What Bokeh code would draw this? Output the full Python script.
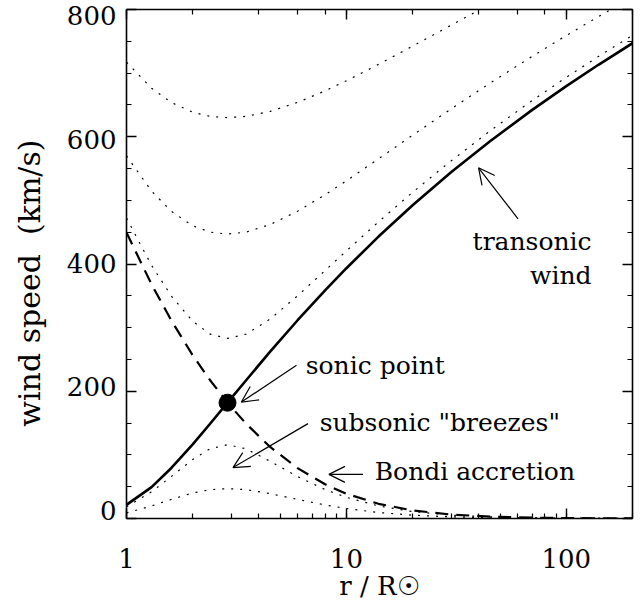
import math
from bokeh.plotting import figure
from bokeh.models import (LinearAxis, LogAxis, Label, Arrow, OpenHead,
                          SingleIntervalTicker, LogTicker, FixedTicker,
                          PrintfTickFormatter, CustomJSTickFormatter, Range1d)
from bokeh.embed import file_html
from bokeh.resources import INLINE

# ---------------- data ----------------
# heliocentric distance r / R_sun
r = [1, 1.3, 1.6, 2, 2.4, 2.88, 3.5, 4.5, 6, 8, 10, 14, 20, 30, 45, 70, 100, 140, 200]
# wind speed (km/s)
transonic_wind = [21.5, 49.4, 79.4, 116.6, 148.9, 182.0, 217.3, 262.2, 311.6, 358.6,
                  393.4, 443.1, 492.3, 544.5, 592.9, 642.2, 679.5, 713.1, 747.0]
bondi_accretion = [449.4, 368.0, 311.1, 256.6, 217.3, 182.0, 148.9, 112.4, 79.1, 53.8,
                   38.9, 23.1, 12.7, 6.2, 2.9, 1.3, 0.6, 0.3, 0.2]
supersonic_high = [717.2, 676.2, 653.8, 638.6, 632.0, 630.0, 632.0, 639.8, 654.0, 672.1,
                   688.0, 713.7, 742.4, 775.5, 808.5, 843.8]
supersonic_mid = [570.0, 514.6, 482.7, 460.1, 450.1, 447.0, 450.1, 462.0, 483.0, 508.9,
                  530.8, 565.4, 602.4, 644.0, 684.3, 726.4, 759.1, 788.8, 819.3]
supersonic_low = [472.1, 397.9, 349.6, 310.0, 289.8, 283.0, 289.8, 313.5, 350.1, 389.7,
                  420.6, 466.3, 512.7, 562.4, 609.2, 657.0, 693.4, 726.2, 759.4]
breeze_high = [18.4, 42.0, 66.1, 92.7, 109.5, 116.0, 109.5, 90.0, 65.9, 45.5,
               33.2, 19.7, 10.9, 5.3, 2.5, 1.1, 0.6, 0.3, 0.1]
breeze_low = [8.8, 19.7, 30.1, 40.1, 45.3, 47.0, 45.3, 39.1, 30.0, 21.3,
              15.7, 9.4, 5.2, 2.6, 1.2, 0.5, 0.3, 0.1, 0.1]
sonic_r = [2.88]
sonic_v = [182.0]

y_ticks = [0, 200, 400, 600, 800]
y_tick_labels = ["0", "200", "400", "600", "800"]

FONT = "DejaVu Serif"

p = figure(width=636, height=607, x_axis_type="log",
           x_range=Range1d(1, 200), y_range=Range1d(0, 800),
           output_backend="svg", toolbar_location=None,
           min_border_left=126, min_border_right=4,
           min_border_top=9, min_border_bottom=89)
p.grid.visible = False
p.outline_line_color = None
p.background_fill_color = "white"
p.border_fill_color = "white"

# range used only to place the y tick labels (edge labels kept inside the page)
p.extra_y_ranges = {"labels": Range1d(-12.9, 810.5)}

top_axis = LogAxis(ticker=LogTicker())
right_axis = LinearAxis(ticker=SingleIntervalTicker(interval=200, num_minor_ticks=4))
p.add_layout(top_axis, "above")
p.add_layout(right_axis, "right")

left = p.left[0]
left.ticker = SingleIntervalTicker(interval=200, num_minor_ticks=4)
bottom = p.below[0]

for ax in [bottom, left, top_axis, right_axis]:
    ax.major_tick_in = 10
    ax.major_tick_out = 0
    ax.minor_tick_in = 5
    ax.minor_tick_out = 0
    ax.axis_line_width = 1.6
    ax.axis_line_color = "black"
    ax.major_tick_line_width = 1.4
    ax.minor_tick_line_width = 1.2
    ax.major_tick_line_color = "black"
    ax.minor_tick_line_color = "black"

for ax in [left, top_axis, right_axis]:
    ax.formatter = CustomJSTickFormatter(code="return ''")
    ax.major_label_text_font_size = "0px"
    ax.major_label_standoff = 0

# label-only axis on the left: tick labels + title
lab_axis = LinearAxis(y_range_name="labels", ticker=FixedTicker(ticks=y_ticks),
                      major_label_overrides={v: t for v, t in zip(y_ticks, y_tick_labels)})
lab_axis.axis_line_color = None
lab_axis.major_tick_line_color = None
lab_axis.minor_tick_line_color = None
lab_axis.major_tick_in = 0
lab_axis.major_tick_out = 0
lab_axis.minor_tick_in = 0
lab_axis.minor_tick_out = 0
lab_axis.major_label_standoff = 10
lab_axis.major_label_text_font = FONT
lab_axis.major_label_text_font_size = "26px"
lab_axis.major_label_text_color = "black"
lab_axis.axis_label = "wind speed \u00a0(km/s)\u00a0\u00a0\u00a0\u00a0"
lab_axis.axis_label_text_font = FONT
lab_axis.axis_label_text_font_size = "30px"
lab_axis.axis_label_text_font_style = "normal"
lab_axis.axis_label_text_color = "black"
lab_axis.axis_label_standoff = 17
p.add_layout(lab_axis, "left")

bottom.formatter = PrintfTickFormatter(format="%d")
bottom.major_label_text_font = FONT
bottom.major_label_text_font_size = "26px"
bottom.major_label_text_color = "black"
bottom.major_label_standoff = 30
bottom.axis_label = "r / R\u2609"
bottom.axis_label_text_font = FONT
bottom.axis_label_text_font_size = "26px"
bottom.axis_label_text_font_style = "normal"
bottom.axis_label_text_color = "black"
bottom.axis_label_standoff = 0

# ---------------- curves ----------------
dot = "2 7"
p.line(r[:len(supersonic_high)], supersonic_high, line_color="black", line_width=1.2, line_dash=dot)
p.line(r, supersonic_mid, line_color="black", line_width=1.2, line_dash=dot)
p.line(r, supersonic_low, line_color="black", line_width=1.2, line_dash=dot)
p.line(r, breeze_high, line_color="black", line_width=1.2, line_dash=dot)
p.line(r, breeze_low, line_color="black", line_width=1.2, line_dash=dot)
p.line(r, bondi_accretion, line_color="black", line_width=2.2, line_dash="13 8")
p.line(r, transonic_wind, line_color="black", line_width=2.6)
p.scatter(sonic_r, sonic_v, size=17, color="black")

# ---------------- annotations ----------------
def note(x, y, text, align="left"):
    p.add_layout(Label(x=x, y=y, text=text, text_align=align,
                       text_baseline="alphabetic", text_font=FONT,
                       text_font_size="25px", text_color="black"))

def arrow(x0, y0, x1, y1):
    p.add_layout(Arrow(end=OpenHead(size=16, line_width=1.2, line_color="black"),
                       x_start=x0, y_start=y0, x_end=x1, y_end=y1,
                       line_width=1.2, line_color="black"))

note(130.3, 436.0, "transonic", "right")
note(130.3, 382.5, "wind", "right")
arrow(60.3, 471.1, 39.9, 551.2)

note(6.53, 241.0, "sonic point")
arrow(5.93, 240.7, 3.33, 183.0)

note(7.56, 151.0, "subsonic \"breezes\"")
arrow(6.69, 149.1, 3.05, 80.0)

note(13.45, 73.7, "Bondi accretion")
arrow(11.9, 69.4, 8.33, 69.4)

open("out.html", "w").write(file_html(p, INLINE))
